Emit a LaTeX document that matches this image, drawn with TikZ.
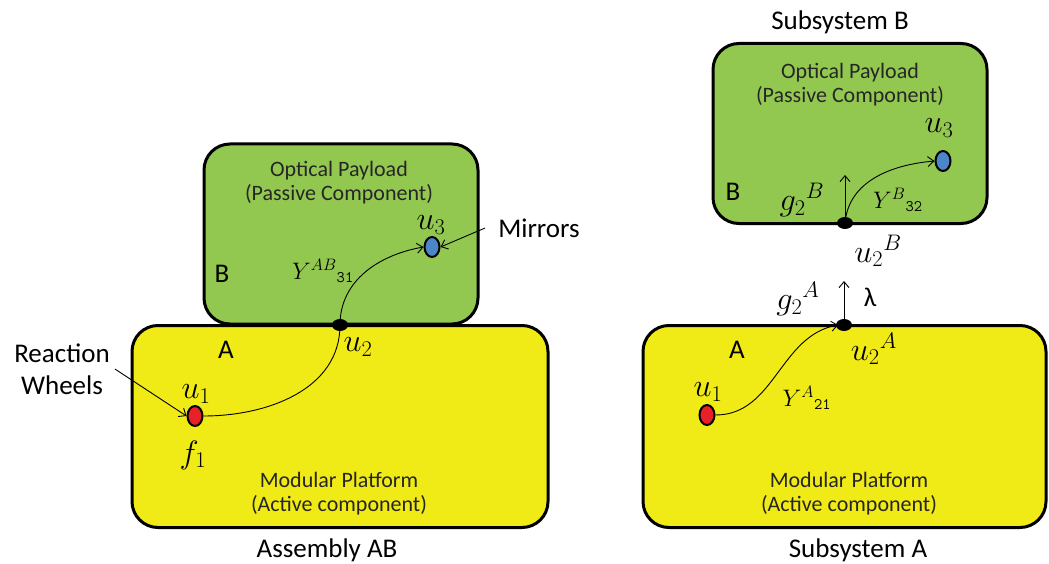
\documentclass[tikz,border=0pt]{standalone}
\usepackage{fontspec}
\setmainfont{Carlito}
\usetikzlibrary{arrows.meta,shapes.geometric}
\definecolor{pgreen}{RGB}{146,200,80}
\definecolor{pyellow}{RGB}{240,234,22}
\definecolor{pred}{RGB}{232,32,40}
\definecolor{pblue}{RGB}{74,134,200}
\begin{document}
\begin{tikzpicture}[x=1pt,y=-1pt,
  panel/.style={draw, line width=3pt, rounded corners=26pt, inner sep=0pt},
  gbox/.style={panel, fill=pgreen, minimum width=274pt, minimum height=180pt},
  ybox/.style={panel, fill=pyellow, minimum height=202pt},
  lbl/.style={font=\fontsize{27}{32}\selectfont, inner sep=1pt, align=center},
  mlbl/.style={font=\fontsize{24}{28}\selectfont, inner sep=1pt, scale=1.3},
  ylbl/.style={font=\fontsize{20}{24}\selectfont, inner sep=1pt, scale=1.15},
  btxt/.style={font=\fontsize{22}{24}\selectfont, align=center, text=black!85, inner sep=0pt},
  comp/.style={ellipse, draw, line width=2pt, minimum width=15pt, minimum height=20pt, inner sep=0pt},
  dotn/.style={ellipse, fill=black, minimum width=16pt, minimum height=12pt, inner sep=0pt},
  conn/.style={line width=0.9pt},
  arr/.style={conn, -{Straight Barb[length=6pt,width=10pt]}}]
\useasboundingbox (0,0) rectangle (1049,564);

% panels
\node[gbox] (BLbox) at (341,234) {};
\node[ybox, minimum width=416pt] (ALbox) at (340,426.5) {};
\node[gbox] (BRbox) at (850,133.5) {};
\node[ybox, minimum width=403pt] (ARbox) at (844.5,426.5) {};

% box texts
\node[btxt] (tBL) at (339,183) {Optical Payload\\(Passive Component)};
\node[btxt] (tBR) at (850,85) {Optical Payload\\(Passive Component)};
\node[btxt] (tAL) at (339,494) {Modular Platform\\(Active component)};
\node[btxt] (tAR) at (849,494) {Modular Platform\\(Active component)};

% titles and letters
\node[lbl] (subB) at (840,22) {Subsystem B};
\node[lbl] (asm) at (327,550) {Assembly AB};
\node[lbl] (subA) at (858,550) {Subsystem A};
\node[lbl] (BL) at (222,274) {B};
\node[lbl] (AL) at (226,350) {A};
\node[lbl] (BR) at (733,192) {B};
\node[lbl] (AR) at (737,350) {A};
\node[lbl] (rw) at (62,369) {Reaction\\Wheels};
\node[lbl] (mir) at (539,228) {Mirrors};

% components
\node[comp, fill=pred] (u1L) at (195,416) {};
\node[comp, fill=pblue] (u3L) at (432,247) {};
\node[comp, fill=pred] (u1R) at (707,415) {};
\node[comp, fill=pblue] (u3R) at (943,161) {};
\coordinate (dL) at (340,325);
\coordinate (dB) at (845,223);
\coordinate (dA) at (844,325);
\coordinate (upB) at (845,175);
\coordinate (upA) at (844,281);

% connectors
\draw[conn] (u1L.east) to[out=0,in=-90] (dL);
\draw[arr] (dL) to[out=90,in=190] (u3L.west);
\draw[arr] ([xshift=-12pt]mir.west) -- (u3L.east);
\draw[arr] ([xshift=4pt]rw.east) -- (u1L.west);
\draw[arr] (dB) to[out=85,in=185] (u3R.west);
\draw[arr] (dB) -- (upB);
\draw[arr] (u1R.east) to[out=0,in=190] ([xshift=-6pt]dA);
\draw[arr] (dA) -- (upA);

% junction dots
\node[dotn] (u2L) at (dL) {};
\node[dotn] (u2B) at (dB) {};
\node[dotn] (u2A) at (dA) {};

% math labels
\node[mlbl] (u1Llab) at (196,394) {$u_1$};
\node[mlbl] (f1) at (193,455) {$f_1$};
\node[mlbl] (u2Llab) at (358,347) {$u_2$};
\node[mlbl, inner sep=0pt] (u3Llab) at (431,225) {$u_3$};
\node[ylbl] (YAB) at (323,271) {$Y^{AB}{}_{\mathtt{31}}$};
\node[mlbl] (u3Rlab) at (939,128) {$u_3$};
\node[mlbl] (g2B) at (802,200) {$g_2{}^{B}$};
\node[ylbl] (YB) at (898,200) {$Y^{B}{}_{\mathtt{32}}$};
\node[mlbl] (u2Blab) at (878,251) {$u_2{}^{B}$};
\node[lbl] (lam) at (870,297) {λ};
\node[mlbl] (g2A) at (798,299) {$g_2{}^{A}$};
\node[mlbl] (u2Alab) at (874,349) {$u_2{}^{A}$};
\node[mlbl] (u1Rlab) at (708,392) {$u_1$};
\node[ylbl] (YA) at (807,398) {$Y^{A}{}_{\mathtt{21}}$};
\end{tikzpicture}
\end{document}
